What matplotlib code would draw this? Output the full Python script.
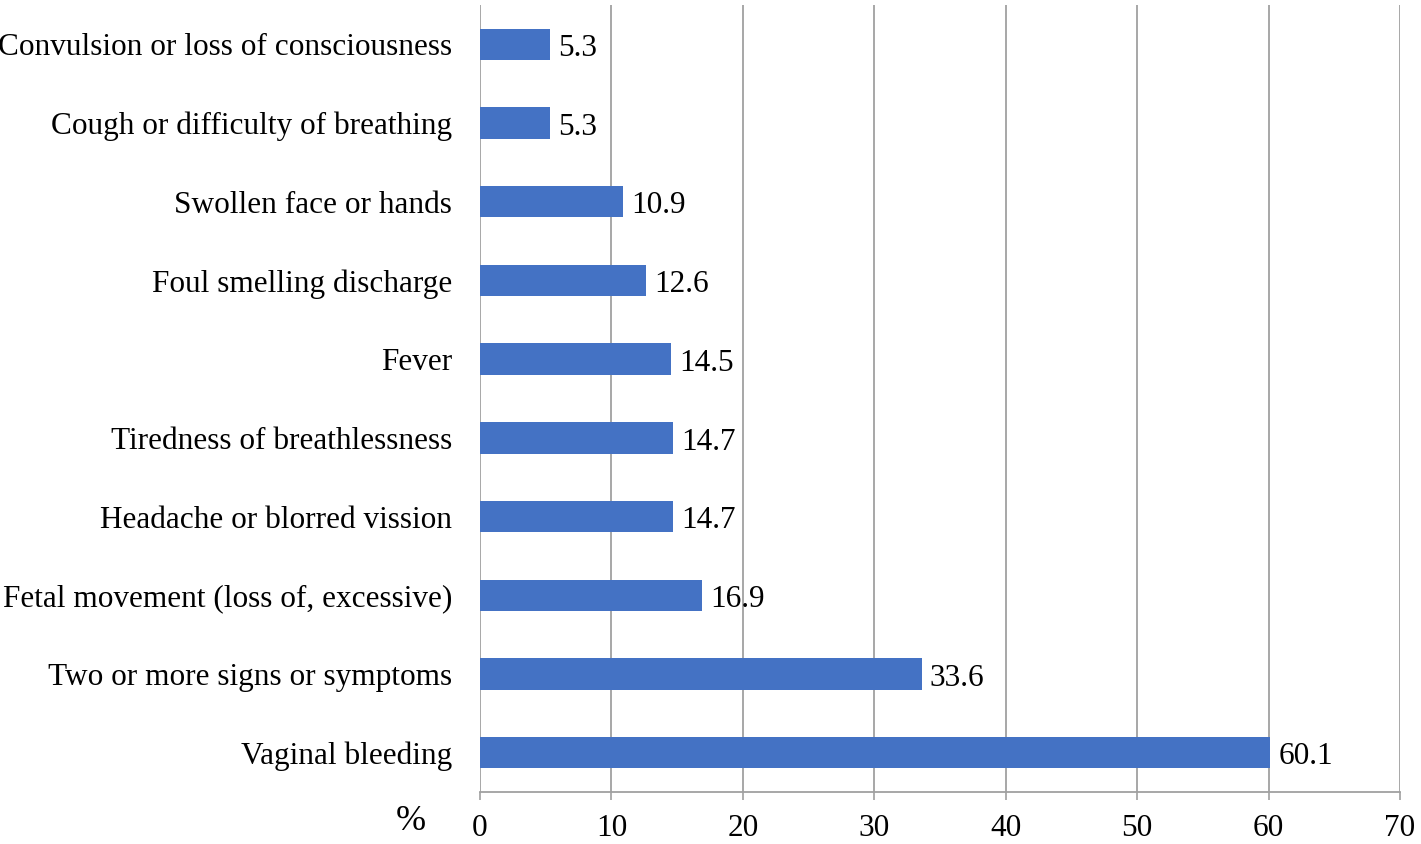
import matplotlib.pyplot as plt

# data, bottom to top
categories = ['Vaginal bleeding', 'Two or more signs or symptoms',
              'Fetal movement (loss of, excessive)', 'Headache or blorred vission',
              'Tiredness of breathlessness', 'Fever', 'Foul smelling discharge',
              'Swollen face or hands', 'Cough or difficulty of breathing',
              'Convulsion or loss of consciousness']
values = [60.1, 33.6, 16.9, 14.7, 14.7, 14.5, 12.6, 10.9, 5.3, 5.3]
xticks = [0, 10, 20, 30, 40, 50, 60, 70]

plt.rcParams['font.family'] = ['Liberation Serif', 'DejaVu Serif']
fs = 22.5

fig = plt.figure(figsize=(14.21, 8.44), dpi=100)
ax = fig.add_axes([0.3378, 0.0616, 0.6474, 0.9325])

y = list(range(len(categories)))
ax.barh(y, values, height=0.4, color='#4472c4', zorder=3)

for yi, v in zip(y, values):
    ax.annotate(f'{v}', (v, yi), xytext=(6, -3), textcoords='offset points',
                ha='left', va='center', fontsize=fs)

ax.set_xlim(0, 70)
ax.set_ylim(-0.5, len(categories) - 0.5)
ax.set_xticks(xticks)
ax.set_yticks(y)
ax.set_yticklabels(categories, fontsize=fs)
ax.tick_params(axis='x', labelsize=fs, length=6, width=1.2, color='#a0a0a0', pad=10)
ax.tick_params(axis='y', length=0, pad=20)

ax.grid(axis='x', color='#a0a0a0', linewidth=1.3, zorder=0)
for s in ['top', 'right', 'left']:
    ax.spines[s].set_visible(False)
ax.spines['bottom'].set_color('#a0a0a0')
ax.spines['bottom'].set_linewidth(1.3)

fig.text(0.289, 0.016, '%', fontsize=26, ha='center', va='baseline')

fig.savefig('out.png')
